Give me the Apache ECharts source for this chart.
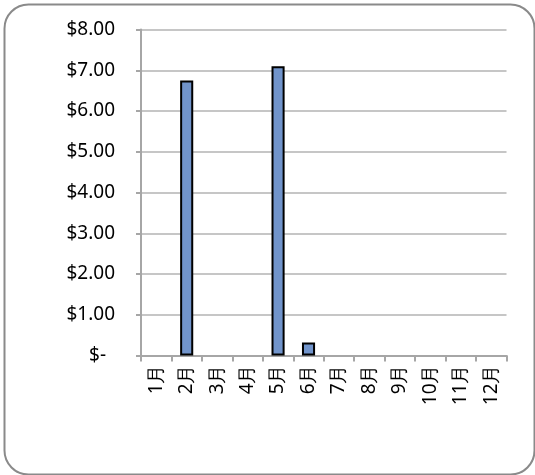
<!DOCTYPE html>
<html>
<head>
<meta charset="utf-8">
<script src="https://cdn.jsdelivr.net/npm/echarts@6/dist/echarts.min.js"></script>
<style>
html,body{margin:0;padding:0;background:#fff;}
#c{width:535px;height:475px;}
</style>
</head>
<body>
<div id="c"></div>
<script>
const categories = ['1月','2月','3月','4月','5月','6月','7月','8月','9月','10月','11月','12月'];
const values = [null, 6.75, null, null, 7.10, 0.32, null, null, null, null, null, null];
const yTicks = [0, 1, 2, 3, 4, 5, 6, 7, 8];

const chart = echarts.init(document.getElementById('c'), null, {renderer: 'canvas'});
const font = 'Noto Sans, Open Sans, sans-serif';
const fs = 19;
chart.setOption({
  animation: false,
  backgroundColor: '#fff',
  graphic: [{
    type: 'rect',
    left: 2, top: 2,
    shape: {x: 0, y: 0, width: 530, height: 470, r: 24},
    style: {fill: 'none', stroke: '#8a8a8a', lineWidth: 2},
    silent: true,
    z: -1
  }],
  grid: {left: 141, right: 28.5, top: 29.5, bottom: 119.5, containLabel: false},
  xAxis: {
    type: 'category',
    data: categories,
    axisLine: {show: true, lineStyle: {color: '#a6a6a6', width: 2}},
    axisTick: {show: true, alignWithLabel: false, length: 6, lineStyle: {color: '#a6a6a6', width: 2}},
    axisLabel: {rotate: 90, margin: 9, color: '#000', fontSize: fs, fontFamily: font, interval: 0},
    splitLine: {show: false}
  },
  yAxis: {
    type: 'value',
    min: yTicks[0], max: yTicks[yTicks.length - 1], interval: 1,
    axisLine: {show: true, lineStyle: {color: '#a6a6a6', width: 2}},
    axisTick: {show: true, length: 5, lineStyle: {color: '#a6a6a6', width: 2}},
    axisLabel: {
      margin: 26, color: '#000', fontSize: fs, fontFamily: font,
      formatter: function (v) { return v === 0 ? '{z|$-}' : '$' + v.toFixed(2); },
      rich: {z: {fontSize: fs, fontFamily: font, color: '#000', padding: [0, 9, 0, 0]}}
    },
    splitLine: {show: true, lineStyle: {color: '#c6c6c6', width: 2}}
  },
  series: [{
    type: 'bar',
    data: values,
    barWidth: '43%',
    itemStyle: {color: '#7194cb', borderColor: '#000', borderWidth: 2}
  }]
});
</script>
</body>
</html>
